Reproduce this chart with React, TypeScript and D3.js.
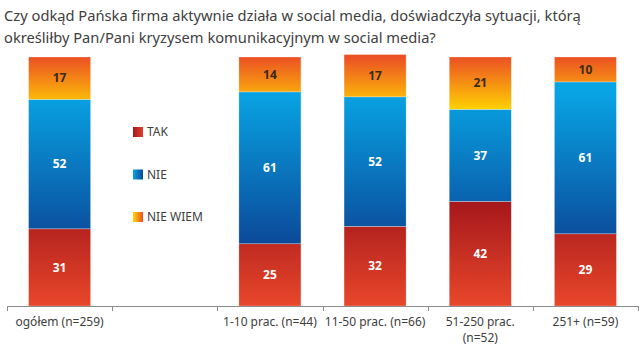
import React, { useRef, useEffect } from 'react';
import * as d3 from 'd3';

// categories (empty slot is a gap between "ogółem" and the size groups)
const categories = ['ogółem (n=259)', '', '1-10 prac. (n=44)', '11-50 prac. (n=66)', '51-250 prac.|(n=52)', '251+ (n=59)'];
const seriesNames = ['TAK', 'NIE', 'NIE WIEM'];
const takValues = [31, null, 25, 32, 42, 29];
const nieValues = [52, null, 61, 52, 37, 61];
const nieWiemValues = [17, null, 14, 17, 21, 10];

const titleLines = [
  'Czy odkąd Pańska firma aktywnie działa w social media, doświadczyła sytuacji, którą',
  'określiłby Pan/Pani kryzysem komunikacyjnym w social media?',
];

const App = () => {
  const svgRef = useRef<SVGSVGElement>(null);

  useEffect(() => {
    const W = 640, H = 350;
    const svg = d3.select(svgRef.current);
    svg.selectAll('*').remove();
    svg.attr('width', W).attr('height', H);

    const font = '"Noto Sans", "Open Sans", sans-serif';
    const plotTop = 57, plotBottom = 306;

    // gradients
    const defs = svg.append('defs');
    const grad = (id, x1, y1, x2, y2, c1, c2, units = 'userSpaceOnUse') => {
      const g = defs.append('linearGradient').attr('id', id)
        .attr('gradientUnits', units)
        .attr('x1', x1).attr('y1', y1).attr('x2', x2).attr('y2', y2);
      g.append('stop').attr('offset', '0%').attr('stop-color', c1);
      g.append('stop').attr('offset', '100%').attr('stop-color', c2);
    };
    grad('g-tak', 0, 200, 0, 306, '#a4171b', '#e8472a');
    grad('g-nie', 0, 92, 0, 246, '#08a4e4', '#0b4898');
    grad('g-niewiem', 0, 57, 0, 112, '#ec5024', '#ffd700');
    grad('l-tak', 0, 0, 1, 0, '#a8181c', '#e0402a', 'objectBoundingBox');
    grad('l-nie', 0, 0, 1, 0, '#08a4e4', '#0b4898', 'objectBoundingBox');
    grad('l-niewiem', 0, 0, 1, 0, '#ffd700', '#ec5024', 'objectBoundingBox');
    const fills = ['url(#g-tak)', 'url(#g-nie)', 'url(#g-niewiem)'];
    const legendFills = ['url(#l-tak)', 'url(#l-nie)', 'url(#l-niewiem)'];
    const labelColors = ['#ffffff', '#ffffff', '#3a2a1a'];

    // title
    svg.append('g').selectAll('text')
      .data(titleLines)
      .enter().append('text')
      .attr('x', 4)
      .attr('y', (d, i) => 21 + i * 22)
      .attr('font-family', font)
      .attr('font-size', '14.7px')
      .attr('fill', '#404040')
      .text(d => d);

    // scales
    const keys = categories.map((c, i) => 'c' + i);
    const xCat = d3.scaleBand().domain(keys).range([7, 638]);
    const x = d3.scaleBand().domain(keys).range([7, 638]).paddingInner(0.41).paddingOuter(0.205);
    const y = d3.scaleLinear().domain([0, 100]).range([plotBottom, plotTop]);

    const rows = categories.map((c, i) => ({ key: keys[i], label: c, vals: [takValues[i], nieValues[i], nieWiemValues[i]] }))
      .filter(r => r.vals[0] != null);
    const stacked = d3.stack().keys([0, 1, 2]).value((d, k) => d.vals[k])(rows);

    // bars
    stacked.forEach((layer, si) => {
      const g = svg.append('g');
      g.selectAll('rect')
        .data(layer)
        .enter().append('rect')
        .attr('x', d => x(d.data.key))
        .attr('width', x.bandwidth())
        .attr('y', d => y(d[1]))
        .attr('height', d => y(d[0]) - y(d[1]))
        .attr('fill', fills[si])
        .attr('stroke', 'rgba(255,255,255,0.45)')
        .attr('stroke-width', 0.6);
      g.selectAll('text')
        .data(layer)
        .enter().append('text')
        .attr('x', d => x(d.data.key) + x.bandwidth() / 2)
        .attr('y', d => (y(d[0]) + y(d[1])) / 2)
        .attr('dy', '0.35em')
        .attr('text-anchor', 'middle')
        .attr('font-family', font)
        .attr('font-weight', 'bold')
        .attr('font-size', '12px')
        .attr('fill', labelColors[si])
        .text(d => d.data.vals[si]);
    });

    // x axis line + ticks at category boundaries
    const axis = svg.append('g');
    axis.append('line')
      .attr('x1', 7).attr('x2', 638)
      .attr('y1', plotBottom + 0.5).attr('y2', plotBottom + 0.5)
      .attr('stroke', '#8c8c8c');
    const bounds = keys.map(k => xCat(k)).concat([638]);
    axis.selectAll('line.tick')
      .data(bounds)
      .enter().append('line')
      .attr('class', 'tick')
      .attr('x1', d => Math.round(d) + 0.5).attr('x2', d => Math.round(d) + 0.5)
      .attr('y1', plotBottom).attr('y2', plotBottom + 5)
      .attr('stroke', '#8c8c8c');

    const lbl = axis.selectAll('text.cat')
      .data(categories.map((c, i) => ({ c, k: keys[i] })))
      .enter().append('text')
      .attr('class', 'cat')
      .attr('x', d => xCat(d.k) + xCat.bandwidth() / 2)
      .attr('y', 326)
      .attr('text-anchor', 'middle')
      .attr('font-family', font)
      .attr('font-size', '12px')
      .attr('fill', '#404040');
    lbl.selectAll('tspan')
      .data(d => d.c.split('|').map((t, j) => ({ t, j, x: xCat(d.k) + xCat.bandwidth() / 2 })))
      .enter().append('tspan')
      .attr('x', d => d.x)
      .attr('dy', d => (d.j === 0 ? 0 : 16))
      .text(d => d.t);

    // legend
    const legend = svg.selectAll('.legend')
      .data(seriesNames)
      .enter().append('g')
      .attr('class', 'legend')
      .attr('transform', (d, i) => `translate(133,${132 + i * 42.5})`);
    legend.append('rect')
      .attr('x', 0).attr('y', -5)
      .attr('width', 10).attr('height', 10)
      .attr('fill', (d, i) => legendFills[i]);
    legend.append('text')
      .attr('x', 14)
      .attr('y', 0)
      .attr('dy', '0.35em')
      .attr('font-family', font)
      .attr('font-size', '12px')
      .attr('fill', '#404040')
      .text(d => d);
  }, []);

  return (
    <svg ref={svgRef} style={{ position: 'absolute', left: 0, top: 0, background: '#fff' }}></svg>
  );
};

export default App;
